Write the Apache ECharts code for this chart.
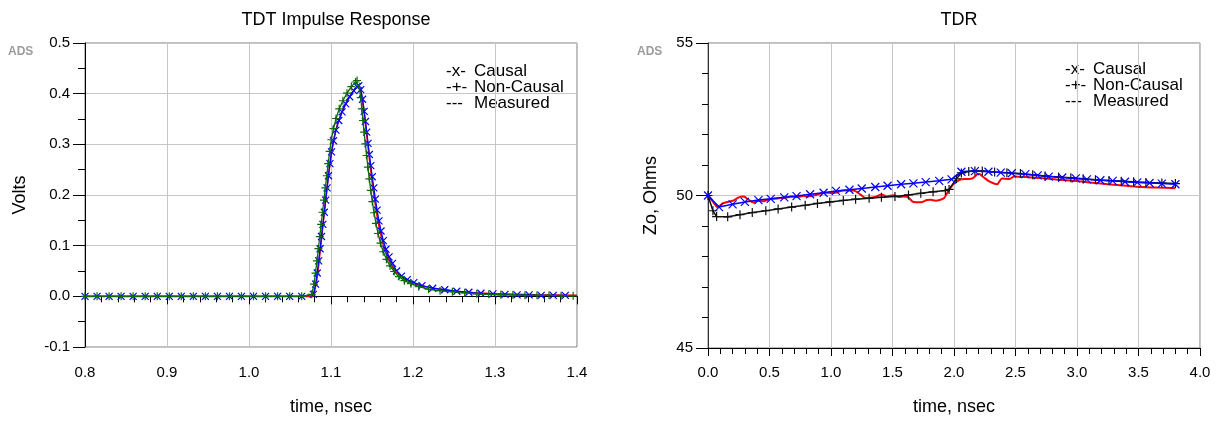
<!DOCTYPE html>
<html>
<head>
<meta charset="utf-8">
<script src="https://cdn.jsdelivr.net/npm/echarts@6/dist/echarts.min.js"></script>
<style>
  html, body { margin: 0; padding: 0; background: #fff; }
  #chart { width: 1217px; height: 421px; }
</style>
</head>
<body>
<div id="chart"></div>
<script>
// ---- TDT impulse response (volts vs. time in nsec) ----
const tdtCausalT = [0.8000,0.8147,0.8294,0.8440,0.8587,0.8734,0.8881,0.9028,0.9174,0.9321,0.9468,0.9615,0.9762,0.9908,1.0055,1.0202,1.0349,1.0496,1.0643,
  1.0785,1.0812,1.0832,1.0850,1.0867,1.0884,1.0901,1.0918,1.0935,1.0952,1.0969,1.0987,1.1006,1.1030,1.1060,1.1095,1.1135,1.1180,1.1228,1.1278,1.1318,1.1340,
  1.1362,1.1385,1.1405,1.1420,1.1436,1.1452,1.1468,1.1485,1.1503,1.1522,1.1541,1.1562,1.1585,1.1610,1.1638,1.1670,1.1708,1.1750,1.1800,1.1860,1.1930,1.2010,1.2110,1.2240,
  1.2387,1.2534,1.2681,1.2828,1.2975,1.3122,1.3269,1.3416,1.3563,1.3710,1.3857];
const tdtCausalV = [0,0,0,0,0,0,0,0,0,0,0,0,0,0,0,0,0,0,0,
  0.004,0.024,0.046,0.070,0.094,0.118,0.142,0.166,0.190,0.214,0.238,0.262,0.285,0.307,0.328,0.347,0.364,0.380,0.394,0.406,0.414,0.416,
  0.408,0.389,0.365,0.345,0.324,0.302,0.280,0.258,0.236,0.214,0.192,0.170,0.149,0.129,0.110,0.093,0.078,0.065,0.050,0.040,0.033,0.027,0.021,0.016,
  0.013,0.010,0.008,0.006,0.005,0.004,0.003,0.003,0.002,0.002,0.002];

const tdtNonCausalT = [0.8000,0.8147,0.8294,0.8440,0.8587,0.8734,0.8881,0.9028,0.9174,0.9321,0.9468,0.9615,0.9762,0.9908,1.0055,1.0202,1.0349,1.0496,1.0643,
  1.0765,1.0792,1.0811,1.0829,1.0846,1.0863,1.0880,1.0897,1.0914,1.0931,1.0948,1.0966,1.0984,1.1004,1.1030,1.1062,1.1100,1.1145,1.1195,1.1248,1.1300,1.1318,
  1.1345,1.1362,1.1376,1.1390,1.1404,1.1419,1.1434,1.1450,1.1467,1.1485,1.1504,1.1525,1.1548,1.1574,1.1603,1.1637,1.1676,1.1720,1.1770,1.1828,1.1895,1.1975,1.2070,1.2190,1.2330,1.2480,
  1.2630,1.2777,1.2924,1.3071,1.3218,1.3365,1.3512,1.3659,1.3806,1.3953];
const tdtNonCausalV = [0,0,0,0,0,0,0,0,0,0,0,0,0,0,0,0,0,0,0,
  0.004,0.024,0.046,0.070,0.094,0.118,0.142,0.166,0.190,0.214,0.238,0.262,0.286,0.309,0.331,0.351,0.370,0.386,0.401,0.414,0.423,0.426,
  0.412,0.392,0.370,0.347,0.324,0.301,0.278,0.255,0.232,0.209,0.187,0.165,0.144,0.124,0.105,0.088,0.073,0.060,0.049,0.039,0.031,0.025,0.019,0.014,0.011,0.009,
  0.007,0.005,0.004,0.003,0.003,0.002,0.002,0.002,0.001,0.001];

const tdtMeasuredT = [0.80,1.00,1.070,1.0775,1.0800,1.0825,1.085,1.0875,1.090,1.0925,1.095,1.0975,1.100,1.1025,1.105,1.1075,1.110,1.115,1.120,1.125,1.130,1.1335,
  1.1360,1.1380,1.1400,1.1425,1.145,1.1475,1.150,1.1525,1.155,1.1575,1.160,1.1625,1.165,1.170,1.175,1.180,1.190,1.200,1.210,1.225,1.25,1.275,1.30,1.35,1.40];
const tdtMeasuredV = [0,0,0,0,0.010,0.030,0.062,0.100,0.138,0.176,0.212,0.246,0.276,0.301,0.321,0.337,0.350,0.370,0.387,0.400,0.411,0.415,
  0.408,0.392,0.368,0.334,0.298,0.262,0.228,0.198,0.171,0.147,0.127,0.110,0.095,0.073,0.058,0.047,0.034,0.027,0.021,0.016,0.010,0.007,0.005,0.003,0.002];

// ---- TDR (impedance in ohms vs. time in nsec) ----
const tdrCausalT = [0.00,0.09,0.20,0.30,0.41,0.51,0.62,0.72,0.83,0.94,1.04,1.15,1.25,1.36,1.46,1.57,1.67,1.77,1.88,1.98,
  2.06,2.17,2.28,2.38,2.47,2.58,2.68,2.77,2.88,2.99,3.08,3.19,3.29,3.39,3.49,3.59,3.69,3.80];
const tdrCausalV = [50.00,49.62,49.71,49.79,49.85,49.89,49.94,49.98,50.04,50.09,50.15,50.19,50.23,50.28,50.32,50.37,50.40,50.44,50.48,50.53,
  50.78,50.80,50.78,50.75,50.73,50.70,50.66,50.62,50.59,50.56,50.53,50.50,50.48,50.45,50.43,50.41,50.39,50.37];

const tdrNonCausalT = [0.00,0.04,0.07,0.16,0.26,0.36,0.47,0.57,0.68,0.79,0.89,0.99,1.10,1.20,1.31,1.41,1.52,1.63,1.73,1.83,
  1.93,1.96,2.02,2.06,2.12,2.17,2.23,2.33,2.43,2.54,2.64,2.74,2.85,2.95,3.05,3.15,3.26,3.36,3.46,3.56,3.69,3.80];
const tdrNonCausalV = [50.00,49.50,49.31,49.30,49.37,49.44,49.50,49.56,49.62,49.68,49.74,49.79,49.84,49.88,49.91,49.94,49.97,50.02,50.07,50.12,
  50.16,50.20,50.55,50.74,50.79,50.80,50.80,50.77,50.75,50.72,50.68,50.64,50.61,50.58,50.55,50.52,50.49,50.47,50.45,50.43,50.41,50.39];

const tdrMeasuredT = [0.00,0.04,0.08,0.12,0.17,0.21,0.25,0.29,0.33,0.37,0.40,0.45,0.50,0.56,0.59,0.64,0.67,0.72,0.78,0.80,
  0.89,0.94,1.02,1.10,1.18,1.24,1.28,1.35,1.41,1.45,1.51,1.55,1.59,1.62,1.67,1.73,1.78,1.81,1.85,1.89,
  1.92,1.94,1.98,2.02,2.06,2.11,2.15,2.20,2.24,2.28,2.32,2.35,2.39,2.45,2.49,2.60,2.70,2.85,2.97,3.10,3.25,3.40,3.52,3.65,3.80];
const tdrMeasuredV = [50.02,49.80,49.62,49.74,49.80,49.84,49.94,49.97,49.86,49.77,49.83,49.81,49.88,49.90,49.92,49.93,49.97,49.95,49.99,49.97,
  50.03,50.10,50.08,50.16,50.16,50.03,49.92,49.94,50.03,49.97,50.01,49.95,49.97,49.96,49.79,49.78,49.85,49.86,49.83,49.86,
  49.92,50.05,50.30,50.45,50.53,50.54,50.56,50.71,50.60,50.48,50.40,50.37,50.56,50.54,50.62,50.60,50.57,50.52,50.48,50.43,50.37,50.32,50.28,50.26,50.24];

// Legend lines: marker glyph prefix and series name
const legendPrefixes = ['-x-', '-+-', '---'];
const legendNames = ['Causal', 'Non-Causal', 'Measured'];

const FONT = '"Liberation Sans", Arial, sans-serif';
const CROSS_X = 'path://M0,0L1,1M1,0L0,1';
const PLUS = 'path://M0.5,0L0.5,1M0,0.5L1,0.5';

function pairs(t, v) { return t.map((x, i) => [x, v[i]]); }

function markerLine(name, xi, t, v, color, symbol, size, lineWidth, z) {
  return {
    name: name, type: 'line', xAxisIndex: xi, yAxisIndex: xi, z: z,
    data: pairs(t, v),
    symbol: symbol, symbolSize: size, showSymbol: !!symbol,
    lineStyle: { color: color, width: lineWidth },
    itemStyle: { color: color, borderColor: color, borderWidth: 1.2 },
    emphasis: { disabled: true },
    animation: false
  };
}

const axisLabelStyle = { color: '#000', fontFamily: FONT, fontSize: 15 };
const axisNameStyle = { color: '#000', fontFamily: FONT, fontSize: 18 };

function legendTexts(x0, y0) {
  const out = [];
  legendNames.forEach((n, i) => {
    out.push({ type: 'text', left: x0, top: y0 + i * 16,
      style: { text: legendPrefixes[i], font: '17px ' + FONT, fill: '#000' } });
    out.push({ type: 'text', left: x0 + 28, top: y0 + i * 16,
      style: { text: n, font: '17px ' + FONT, fill: '#000' } });
  });
  return out;
}

function adsMark(x, y) {
  return { type: 'text', left: x, top: y,
    style: { text: 'ADS', font: 'bold 12px ' + FONT, fill: '#9c9c9c',
      textShadowColor: '#d0d0d0', textShadowOffsetX: 1, textShadowOffsetY: 1 } };
}

const chart = echarts.init(document.getElementById('chart'), null, { renderer: 'canvas' });

chart.setOption({
  backgroundColor: '#fff',
  animation: false,
  title: [
    { text: 'TDT Impulse Response', left: 331, top: 6, textAlign: 'center',
      textStyle: { fontFamily: FONT, fontSize: 18, fontWeight: 'normal', color: '#000' } },
    { text: 'TDR', left: 954, top: 6, textAlign: 'center',
      textStyle: { fontFamily: FONT, fontSize: 18, fontWeight: 'normal', color: '#000' } }
  ],
  grid: [
    { left: 85, top: 43, width: 492, height: 308, show: true, borderColor: '#7a7a7a', borderWidth: 1, backgroundColor: '#fff' },
    { left: 708, top: 43, width: 492, height: 309, show: true, borderColor: '#7a7a7a', borderWidth: 1, backgroundColor: '#fff' }
  ],
  xAxis: [
    { type: 'value', gridIndex: 0, min: 0.8, max: 1.4, interval: 0.1,
      name: 'time, nsec', nameLocation: 'middle', nameGap: 51, nameTextStyle: axisNameStyle,
      axisLine: { lineStyle: { color: '#000', width: 1 } },
      axisTick: { show: true, inside: false, length: 8, lineStyle: { color: '#000' } },
      minorTick: { show: true, splitNumber: 5, length: 6, lineStyle: { color: '#000' } },
      axisLabel: Object.assign({ margin: 18, formatter: v => v.toFixed(1) }, axisLabelStyle),
      splitLine: { show: true, lineStyle: { color: '#c6c6c6', width: 1 } } },
    { type: 'value', gridIndex: 1, min: 0, max: 4, interval: 0.5,
      name: 'time, nsec', nameLocation: 'middle', nameGap: 50, nameTextStyle: axisNameStyle,
      axisLine: { lineStyle: { color: '#000', width: 1 } },
      axisTick: { show: true, inside: false, length: 8, lineStyle: { color: '#000' } },
      minorTick: { show: true, splitNumber: 5, length: 6, lineStyle: { color: '#000' } },
      axisLabel: Object.assign({ margin: 17, formatter: v => v.toFixed(1) }, axisLabelStyle),
      splitLine: { show: true, lineStyle: { color: '#c6c6c6', width: 1 } } }
  ],
  yAxis: [
    { type: 'value', gridIndex: 0, min: -0.1, max: 0.5, interval: 0.1,
      name: 'Volts', nameLocation: 'middle', nameGap: 56, nameRotate: 90, nameTextStyle: axisNameStyle,
      axisLine: { show: true, lineStyle: { color: '#000', width: 1 } },
      axisTick: { show: true, inside: false, length: 12, lineStyle: { color: '#000' } },
      minorTick: { show: true, splitNumber: 2, length: 7, lineStyle: { color: '#000' } },
      axisLabel: Object.assign({ margin: 15, formatter: v => v.toFixed(1) }, axisLabelStyle),
      splitLine: { show: true, lineStyle: { color: '#c6c6c6', width: 1 } } },
    { type: 'value', gridIndex: 1, min: 45, max: 55, interval: 5,
      name: 'Zo, Ohms', nameLocation: 'middle', nameGap: 48, nameRotate: 90, nameTextStyle: axisNameStyle,
      axisLine: { show: true, lineStyle: { color: '#333', width: 1 } },
      axisTick: { show: true, inside: false, length: 12, lineStyle: { color: '#000' } },
      minorTick: { show: true, splitNumber: 5, length: 6, lineStyle: { color: '#000' } },
      axisLabel: Object.assign({ margin: 15 }, axisLabelStyle),
      splitLine: { show: true, lineStyle: { color: '#c6c6c6', width: 1 } } }
  ],
  graphic: [].concat(legendTexts(446, 63), legendTexts(1065, 61), [adsMark(8, 46), adsMark(637, 46)]),
  series: [
    markerLine('Measured', 0, tdtMeasuredT, tdtMeasuredV, '#ff0000', null, 0, 1.6, 2),
    markerLine('Causal', 0, tdtCausalT, tdtCausalV, '#0000ff', CROSS_X, 7, 1.3, 3),
    markerLine('Non-Causal', 0, tdtNonCausalT, tdtNonCausalV, '#0b6b0b', PLUS, 8, 1.3, 4),
    Object.assign(markerLine('Measured', 1, tdrMeasuredT, tdrMeasuredV, '#ff0000', null, 0, 2, 2), { smooth: 0.3 }),
    markerLine('Non-Causal', 1, tdrNonCausalT, tdrNonCausalV, '#111111', PLUS, 9, 1.5, 3),
    markerLine('Causal', 1, tdrCausalT, tdrCausalV, '#0000ff', CROSS_X, 8, 1.5, 4)
  ]
});
</script>
</body>
</html>
